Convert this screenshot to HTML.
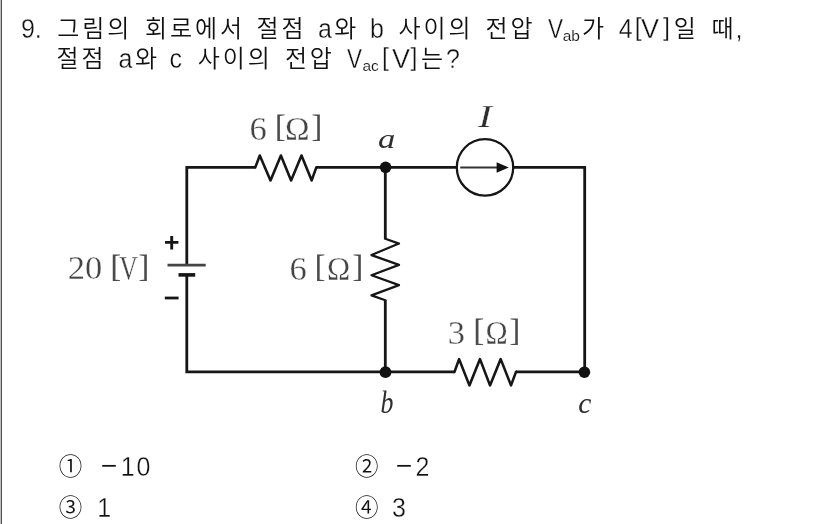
<!DOCTYPE html>
<html lang="ko">
<head>
<meta charset="utf-8">
<title>문제 9</title>
<style>
html,body{margin:0;padding:0;background:#fff;}
body{width:826px;height:524px;position:relative;overflow:hidden;
  font-family:"Liberation Sans","Noto Sans CJK KR",sans-serif;color:#111;}
.edge{position:absolute;left:0;top:0;width:1px;height:524px;background:#c0c0c0;}
.edge2{position:absolute;left:1px;top:0;width:1px;height:524px;background:#4d4d4d;}
.ln{position:absolute;left:0;width:826px;height:30px;will-change:transform;}
.l1{top:13.7px;} .l2{top:44px;} .l3{top:451.8px;} .l4{top:492.8px;}
.t{position:absolute;top:0;white-space:nowrap;line-height:30px;height:30px;}
.k{font-size:24px;font-weight:350;letter-spacing:2.9px;top:0.4px;}
.e{font-size:25px;font-weight:400;-webkit-text-stroke:0.3px #fff;transform:scaleY(1.08);transform-origin:0 23.4px;}
.sub{font-size:15.5px;top:6.8px;-webkit-text-stroke:0.15px #fff;transform:none;}
.vn{transform:scale(.9,1.08);}
.vw{transform:scale(1.08,1.08);}
.cn{font-size:23.5px;letter-spacing:0;top:0.2px;}
.mn{top:-2px;transform:scaleX(1.12);-webkit-text-stroke:0;}
.br{transform:none;top:-1.6px;}
svg{position:absolute;left:0;top:0;}
.wires,.dots{filter:blur(0.35px);}
.lab{font-family:"Liberation Serif",serif;fill:#444;stroke:#fff;stroke-width:0.3px;filter:blur(0.35px);}
.lb{font-size:34.5px;}
.b{font-size:32px;fill:#4a4a4a;stroke:#4a4a4a;stroke-width:0.12px;}
.o{font-size:34.5px;}
.it{font-style:italic;font-size:29px;fill:#2e2e2e;stroke:none;}
.ia{font-size:28px;}
.ib{font-size:30.6px;}
.ic{font-size:29.5px;}
.ii{font-size:32px;stroke:#fff;stroke-width:0.25px;}
</style>
</head>
<body>
<div class="edge"></div><div class="edge2"></div>

<div class="ln l1">
<span id="n9" class="t e" style="left:20.9px">9.</span>
<span id="w1" class="t k" style="left:57.3px">그림의</span>
<span id="w2" class="t k" style="left:145.0px">회로에서</span>
<span id="w3" class="t k" style="left:256.5px">절점</span>
<span id="a1" class="t e" style="left:318.1px">a</span>
<span id="w4" class="t k" style="left:334.3px">와</span>
<span id="b1" class="t e" style="left:369.9px">b</span>
<span id="w5" class="t k" style="left:398.5px">사이의</span>
<span id="w6" class="t k" style="left:485.5px">전압</span>
<span id="v1" class="t e vn" style="left:547.5px">V</span>
<span id="s1" class="t e sub" style="left:562.7px">ab</span>
<span id="w7" class="t k" style="left:581.9px">가</span>
<span id="d4" class="t e" style="left:618.7px">4</span>
<span id="lb1" class="t e br" style="left:634.7px">[</span>
<span id="v2" class="t e vw" style="left:640.7px">V</span>
<span id="rb1" class="t e br" style="left:663.1px">]</span>
<span id="w8" class="t k" style="left:673.7px">일</span>
<span id="w9" class="t k" style="left:711.5px">때</span>
<span id="cm" class="t e" style="left:735.5px">,</span>
</div>
<div class="ln l2">
<span id="x3" class="t k" style="left:56.5px">절점</span>
<span id="a2" class="t e" style="left:118.5px">a</span>
<span id="x4" class="t k" style="left:134.9px">와</span>
<span id="c2" class="t e" style="left:169.5px">c</span>
<span id="x5" class="t k" style="left:197.7px">사이의</span>
<span id="x6" class="t k" style="left:284.9px">전압</span>
<span id="v3" class="t e vn" style="left:346.9px">V</span>
<span id="s2" class="t e sub" style="left:362.5px">ac</span>
<span id="lb2" class="t e br" style="left:382.1px">[</span>
<span id="v4" class="t e vw" style="left:392.1px">V</span>
<span id="rb2" class="t e br" style="left:410.5px">]</span>
<span id="x7" class="t k" style="left:421.1px">는</span>
<span id="qm" class="t e" style="left:445.9px">?</span>
</div>
<svg width="826" height="524" viewBox="0 0 826 524">
<g class="wires" fill="none" stroke="#161616" stroke-width="2.8" stroke-linejoin="round" stroke-linecap="butt">
  <!-- left wire (upper part), top wire with 6 ohm resistor, to current source -->
  <path stroke-linejoin="miter" d="M186.8,265.1 V167.4 H255.3"/>
  <path stroke-width="2.6" d="M254.5,167.4 H255.3 L259.8,155.5 L270.5,180.4 L280.9,155.5 L291.1,180.4 L301.5,155.5 L311.7,180.4 L316.3,167.4 H317.2"/>
  <path d="M316.3,167.4 H457"/>
  <!-- current source to right wire down to node c -->
  <path stroke-linejoin="miter" d="M513,167.4 H584.7 V372"/>
  <!-- left wire (lower part) and bottom wire with 3 ohm resistor -->
  <path stroke-linejoin="miter" d="M186.8,274.9 V371.9 H454.5"/>
  <path stroke-width="2.6" d="M453.5,371.9 H454.5 L459.1,359.1 L469.4,385.4 L480,359.1 L490,385.4 L500.7,359.1 L511,385.4 L516,371.9 H517"/>
  <path d="M516,371.9 H584.7"/>
  <!-- middle branch with 6 ohm resistor -->
  <path d="M385.3,167.4 V239.2 M385.3,299.7 V372"/>
  <path stroke-width="2.2" d="M385.3,237.8 V238.7 L399,243.6 L371.5,255.1 L399,264.9 L371.5,275.2 L399,285.1 L371.5,295.4 L385.3,300.2 V301"/>
  <!-- current source -->
  <circle cx="485" cy="167.4" r="28.2" stroke-width="2.3"/>
  <path d="M460.2,167.5 H498" stroke-width="2" stroke="#333"/>
  <!-- battery plates -->
  <path d="M167.5,265.1 H205.7" stroke-width="2.9" stroke="#444"/>
  <path d="M178.5,274.9 H195.2" stroke-width="3.6"/>
  <!-- polarity marks -->
  <path d="M165,242.4 H178.4 M171.7,235.9 V249.4" stroke-width="2.9"/>
  <path d="M164.8,298 H178.6" stroke-width="2.8"/>
</g>
<g class="dots" fill="#111" stroke="none">
  <path d="M496.6,162.2 L508.8,167.5 L496.6,172.8 Z"/>
  <circle cx="385.6" cy="167.3" r="5.8"/>
  <circle cx="385.5" cy="372.2" r="5.9"/>
  <circle cx="584.4" cy="372.2" r="5.8"/>
</g>

<g class="lab">
<text><tspan id="r1a" class="lb d" x="249.6" y="139.6">6 </tspan><tspan id="r1b" class="lb b" x="275.1" y="136.6">[</tspan><tspan id="r1c" class="lb o" x="285.0" y="140.0" textLength="24.6" lengthAdjust="spacingAndGlyphs">Ω</tspan><tspan id="r1d" class="lb b" x="311.6" y="136.6">]</tspan></text>
<text><tspan id="r2a" class="lb d" x="289.4" y="280.0">6 </tspan><tspan id="r2b" class="lb b" x="314.7" y="277.0">[</tspan><tspan id="r2c" class="lb o" x="327.0" y="280.1" textLength="23.2" lengthAdjust="spacingAndGlyphs">Ω</tspan><tspan id="r2d" class="lb b" x="352.6" y="277.0">]</tspan></text>
<text><tspan id="r3a" class="lb d" x="447.8" y="344.2">3 </tspan><tspan id="r3b" class="lb b" x="473.6" y="340.7">[</tspan><tspan id="r3c" class="lb o" x="485.5" y="343.6" textLength="22.2" lengthAdjust="spacingAndGlyphs">Ω</tspan><tspan id="r3d" class="lb b" x="509.6" y="340.7">]</tspan></text>
<text><tspan id="v0a" class="lb d" x="67.7" y="279.2">2</tspan><tspan id="v0b" class="lb d" x="84.9" y="279.2">0 </tspan><tspan id="v0c" class="lb b" x="110.6" y="277.1">[</tspan><tspan id="v0d" class="lb d" x="119.3" y="279.2" textLength="18.6" lengthAdjust="spacingAndGlyphs">V</tspan><tspan id="v0e" class="lb b" x="138.6" y="277.1">]</tspan></text>
<text><tspan id="na" class="it ia" x="378.1" y="147.5" textLength="17.3" lengthAdjust="spacingAndGlyphs">a</tspan></text>
<text><tspan id="nb" class="it ib" x="380.4" y="413.0" textLength="12.9" lengthAdjust="spacingAndGlyphs">b</tspan></text>
<text><tspan id="nc" class="it ic" x="578.3" y="412.8">c</tspan></text>
<text><tspan id="ni" class="it ii" x="478.0" y="127.1" textLength="14.2" lengthAdjust="spacingAndGlyphs">I</tspan></text>
</g>
</svg>
<div class="ln l3">
<span id="c1" class="t k cn" style="left:58.7px">①</span>
<span id="m1" class="t e mn" style="left:100.7px">−</span>
<span id="t10" class="t e" style="left:120.7px">1</span>
<span id="t10b" class="t e" style="left:136.6px">0</span>
<span id="c2_" class="t k cn" style="left:355.1px">②</span>
<span id="m2" class="t e mn" style="left:396.3px">−</span>
<span id="t2" class="t e" style="left:415.5px">2</span>
</div>
<div class="ln l4">
<span id="c3" class="t k cn" style="left:58.7px">③</span>
<span id="t1" class="t e" style="left:97.2px">1</span>
<span id="c4" class="t k cn" style="left:355.1px">④</span>
<span id="t3" class="t e" style="left:392.0px">3</span>
</div>
</body>
</html>
